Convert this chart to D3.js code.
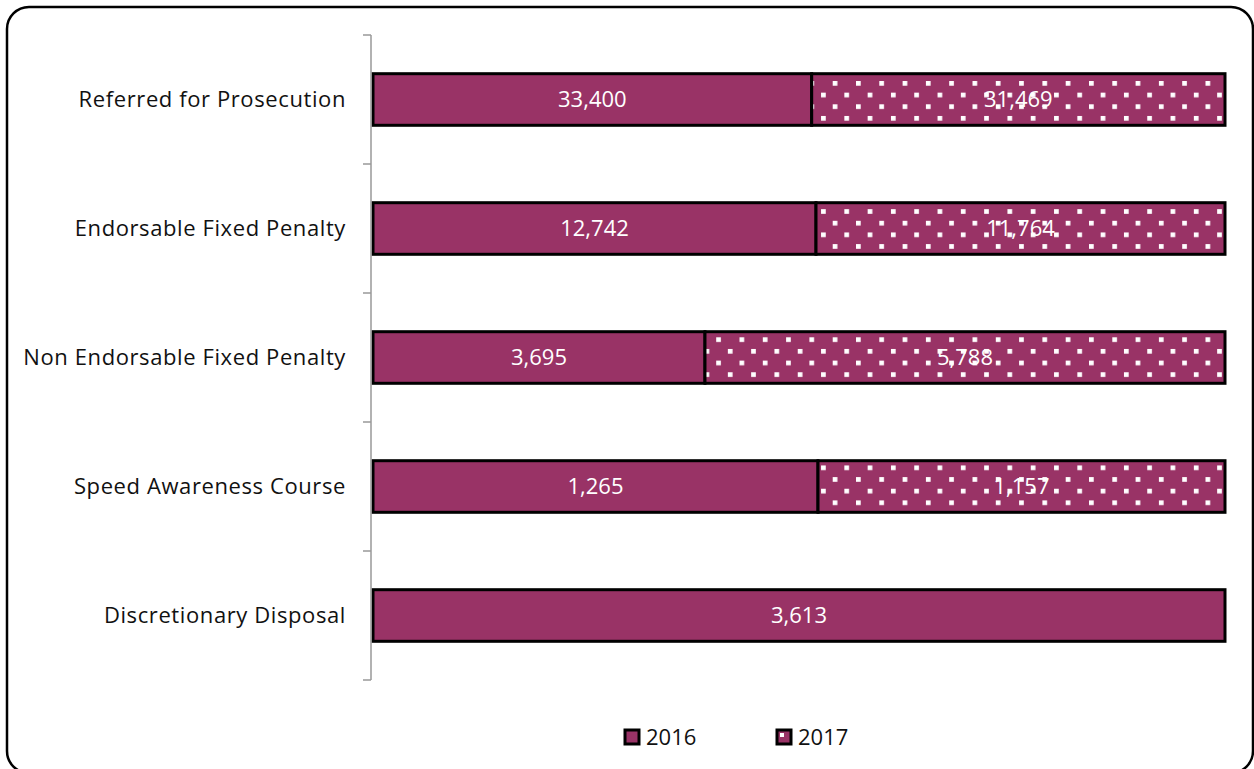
<!DOCTYPE html>
<html>
<head>
<meta charset="utf-8">
<script src="https://cdn.jsdelivr.net/npm/d3@7"></script>
<style>
    body { margin: 0; background: #fff; }
    svg { display: block; }
    text { font-family: "Open Sans", Lato, sans-serif; }
</style>
</head>
<body>
<div id="chart"></div>
<script>
    // categories top to bottom, with the two years
    var categories = ['Referred for Prosecution', 'Endorsable Fixed Penalty', 'Non Endorsable Fixed Penalty', 'Speed Awareness Course', 'Discretionary Disposal'];
    var values2016 = [33400, 12742, 3695, 1265, 3613];
    var values2017 = [31469, 11764, 5788, 1157, 0];
    var seriesNames = ['2016', '2017'];

    var W = 1254, H = 769;
    var barColor = '#993366';

    var svg = d3.select('#chart').append('svg')
        .attr('width', W).attr('height', H);

    // dotted fill used for 2017
    var defs = svg.append('defs');
    var pat = defs.append('pattern')
        .attr('id', 'dots')
        .attr('patternUnits', 'userSpaceOnUse')
        .attr('x', 832.7 - 23.3 * 20).attr('y', 81 - 23.3 * 3)
        .attr('width', 23.3).attr('height', 23.3);
    pat.append('rect').attr('width', 23.3).attr('height', 23.3).attr('fill', barColor);
    pat.append('rect').attr('x', 0).attr('y', 0).attr('width', 4.7).attr('height', 4.7).attr('fill', '#fff');
    pat.append('rect').attr('x', 11.65).attr('y', 11.65).attr('width', 4.7).attr('height', 4.7).attr('fill', '#fff');

    // outer rounded frame
    svg.append('rect')
        .attr('x', 7).attr('y', 7)
        .attr('width', 1246).attr('height', 766)
        .attr('rx', 22).attr('ry', 22)
        .attr('fill', 'none').attr('stroke', '#000').attr('stroke-width', 2.5);

    var y = d3.scaleBand()
        .domain(categories)
        .range([35, 680])
        .paddingInner(0.6)
        .paddingOuter(0.3);

    var x = d3.scaleLinear().domain([0, 1]).range([373, 1225]);

    // stack as shares of each row total (100% stacked)
    var rows = categories.map(function(c, i) {
        var total = values2016[i] + values2017[i];
        return { cat: c, v2016: values2016[i], v2017: values2017[i], total: total };
    });

    var segs = [];
    rows.forEach(function(r) {
        var p0 = r.v2016 / r.total;
        segs.push({ cat: r.cat, x0: 0, x1: p0, val: r.v2016, fill: barColor });
        if (r.v2017 > 0) segs.push({ cat: r.cat, x0: p0, x1: 1, val: r.v2017, fill: 'url(#dots)' });
    });

    var g = svg.append('g');

    g.selectAll('rect.seg').data(segs).enter().append('rect')
        .attr('class', 'seg')
        .attr('x', function(d) { return x(d.x0); })
        .attr('y', function(d) { return y(d.cat); })
        .attr('width', function(d) { return x(d.x1) - x(d.x0); })
        .attr('height', y.bandwidth())
        .attr('fill', function(d) { return d.fill; })
        .attr('stroke', '#000').attr('stroke-width', 3);

    g.selectAll('text.val').data(segs).enter().append('text')
        .attr('class', 'val')
        .attr('x', function(d) { return (x(d.x0) + x(d.x1)) / 2; })
        .attr('y', function(d) { return y(d.cat) + y.bandwidth() / 2; })
        .attr('dy', '0.36em')
        .attr('text-anchor', 'middle')
        .attr('fill', '#fff')
        .style('font-size', '22px')
        .text(function(d) { return d3.format(',')(d.val); });

    // category axis: line plus ticks between categories
    var axisX = 371;
    var step = y.step();
    var ticks = d3.range(categories.length + 1).map(function(i) { return 35 + i * step; });
    svg.append('line')
        .attr('x1', axisX).attr('x2', axisX)
        .attr('y1', 35).attr('y2', 680)
        .attr('stroke', '#999').attr('stroke-width', 1.5);
    svg.selectAll('line.tick').data(ticks).enter().append('line')
        .attr('class', 'tick')
        .attr('x1', axisX - 8).attr('x2', axisX)
        .attr('y1', function(d) { return d; }).attr('y2', function(d) { return d; })
        .attr('stroke', '#999').attr('stroke-width', 1.5);

    svg.selectAll('text.cat').data(categories).enter().append('text')
        .attr('class', 'cat')
        .attr('x', 346)
        .attr('y', function(d) { return y(d) + y.bandwidth() / 2; })
        .attr('dy', '0.36em')
        .attr('text-anchor', 'end')
        .attr('fill', '#111')
        .style('font-size', '22px')
        .style('letter-spacing', '0.6px')
        .text(function(d) { return d; });

    // legend
    var legX = [625, 777];
    var leg = svg.selectAll('g.leg').data(seriesNames).enter().append('g')
        .attr('class', 'leg')
        .attr('transform', function(d, i) { return 'translate(' + legX[i] + ',730)'; });
    leg.append('rect')
        .attr('width', 14).attr('height', 14)
        .attr('fill', barColor)
        .attr('stroke', '#000').attr('stroke-width', 3);
    leg.filter(function(d, i) { return i === 1; }).append('rect')
        .attr('x', 3).attr('y', 3).attr('width', 4).attr('height', 4)
        .attr('fill', '#fff');
    leg.append('text')
        .attr('x', 21).attr('y', 7)
        .attr('dy', '0.36em')
        .attr('fill', '#111')
        .style('font-size', '22px')
        .text(function(d) { return d; });
</script>
</body>
</html>
